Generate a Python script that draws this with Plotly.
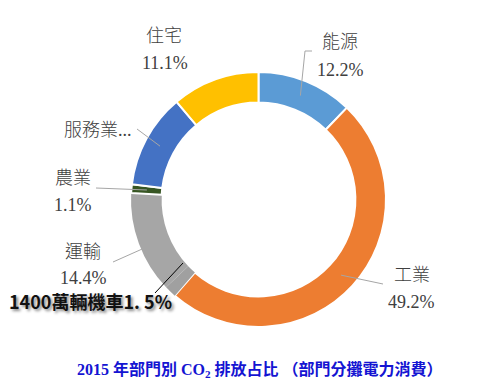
import math
import plotly.graph_objects as go

W, H = 486, 389
OFF = 8  # page body margin in the browser

# ---- data ----
sectors = ["能源", "工業", "1400萬輛機車", "運輸(其他)", "農業", "服務業", "住宅"]
shares = [12.2, 49.2, 1.5, 12.9, 1.1, 12.0, 11.1]
colors = ["#5b9bd5", "#ed7d31", "#a0a0a0", "#a6a6a6", "#375623", "#4472c4", "#ffc000"]

label_names = ["能源", "工業", "運輸", "農業", "服務業...", "住宅"]
label_values = [12.2, 49.2, 14.4, 1.1, None, 11.1]
moto_label = "1400萬輛機車1. 5%"
title_text = "2015 年部門別 CO<sub>2</sub> 排放占比 （部門分攤電力消費）"

# ---- layout helpers ----
cx, cy, R = 258.5, 199.5, 127.5


def P(x, y):
    return (x - OFF) / W, 1 - (y - OFF) / H


fig = go.Figure()
fig.add_trace(go.Pie(
    labels=sectors, values=shares, sort=False, direction="clockwise", rotation=0,
    hole=0.76, textinfo="none", hoverinfo="skip", showlegend=False,
    marker=dict(colors=colors, line=dict(color="white", width=[2, 2, 0, 0, 2, 2, 2])),
    domain=dict(x=[P(cx - R, 0)[0], P(cx + R, 0)[0]], y=[P(0, cy + R)[1], P(0, cy - R)[1]]),
))

# slice mid angles (clockwise from top) for leader line anchors
cum = 0
mids = {}
for s, v in zip(sectors, shares):
    mids[s] = (cum + v / 2) / 100 * 360
    cum += v
trans_mid = (sum(shares[:2]) + (shares[2] + shares[3]) / 2) / 100 * 360


def ring_pt(angle_deg, r):
    a = math.radians(angle_deg)
    return cx + r * math.sin(a), cy - r * math.cos(a)


name_pos = [(340, 42), (412, 275), (83, 252), (73, 178), (98, 130), (164, 36)]
value_pos = [(340, 70), (411, 302), (83, 278), (73, 205), None, (164.5, 63)]
lab_font = dict(family="Liberation Serif, Noto Sans CJK TC", size=18, color="#404040", weight=300)

annotations = []
for nm, val, npos, vpos in zip(label_names, label_values, name_pos, value_pos):
    x, y = P(*npos)
    annotations.append(dict(x=x, y=y, xref="paper", yref="paper", text=nm, showarrow=False,
                            font=lab_font, xanchor="center", yanchor="middle"))
    if val is not None:
        x, y = P(*vpos)
        annotations.append(dict(x=x, y=y, xref="paper", yref="paper", text=f"{val:.1f}%",
                                showarrow=False, font=lab_font, xanchor="center", yanchor="middle"))

# motorcycle label
x, y = P(90, 301)
annotations.append(dict(x=x, y=y, xref="paper", yref="paper", text=moto_label, showarrow=False,
                        font=dict(family="Noto Sans CJK TC", size=18, color="#111111",
                                  weight="bold", shadow="2px 2px 3px #888888"),
                        xanchor="center", yanchor="middle"))

# title
x, y = P(260, 370)
annotations.append(dict(x=x, y=y, xref="paper", yref="paper", text=title_text, showarrow=False,
                        font=dict(family="Liberation Serif, Noto Sans CJK TC", size=16,
                                  color="#1414d2", weight="bold"),
                        xanchor="center", yanchor="middle"))

# leader lines
shapes = []


def seg(p1, p2, color="#a6a6a6"):
    x0, y0 = P(*p1)
    x1, y1 = P(*p2)
    shapes.append(dict(type="line", xref="paper", yref="paper", x0=x0, y0=y0, x1=x1, y1=y1,
                       line=dict(color=color, width=1)))


seg((312, 51), (305, 51))
seg((305, 51), ring_pt(mids["能源"], 112))
seg((383, 284), ring_pt(mids["工業"], 112))
seg((113, 262), ring_pt(trans_mid, 124))
seg((96, 188), ring_pt(mids["農業"], 112))
seg((137, 129), ring_pt(mids["服務業"], 112))
seg((155, 293), (183, 263), color="#000000")

fig.update_layout(width=W, height=H, margin=dict(l=0, r=0, t=0, b=0),
                  paper_bgcolor="white", plot_bgcolor="white",
                  annotations=annotations, shapes=shapes)

fig.write_html("out.html")
